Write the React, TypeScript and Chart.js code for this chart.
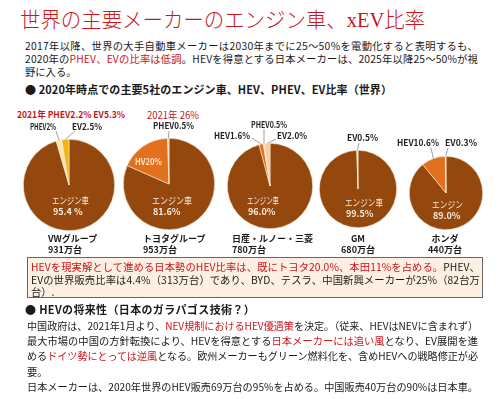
import React, { useEffect, useLayoutEffect, useRef } from "react";
import { Chart, registerables } from "chart.js";
Chart.register(...registerables);

// ---- data ----
const companies = ["VWグループ", "トヨタグループ", "日産・ルノー・三菱", "GM", "ホンダ"];
const salesLabels = ["931万台", "953万台", "780万台", "680万台", "440万台"];
const sliceNames = ["エンジン車", "HEV", "PHEV", "EV"];
const engineShare = [95.4, 81.6, 96.0, 99.5, 89.0];
const hevShare = [0, 17.9, 1.6, 0, 10.6];
const phevShare = [2.0, 0.5, 0.5, 0, 0];
const evShare = [2.5, 0, 2.0, 0.5, 0.3];
const engineNames = ["エンジン車", "エンジン車", "エンジン車", "エンジン車", "エンジン"];
const enginePctLabels = ["95.4 %", "81.6%", "96.0%", "99.5%", "89.0%"];

// ---- layout / style ----
const W = 500, H = 399;
const FONT = '"Noto Sans CJK JP", "Noto Sans", sans-serif';
const RED = "#c8161d";
const BROWN = "#94480d";
const ORANGE = "#e2701c";
const pieGeom = [
  { cx: 69, cy: 185, r: 46 },
  { cx: 169, cy: 184, r: 46 },
  { cx: 270, cy: 186, r: 43 },
  { cx: 358, cy: 189, r: 39 },
  { cx: 446, cy: 193, r: 37 },
];
const pieColors = [
  [BROWN, ORANGE, "#fde6ad", "#f3b515"],
  [BROWN, ORANGE, "#fbe3c4", "#fbe3c4"],
  [BROWN, ORANGE, "#fbe7d6", "#f8caa2"],
  [BROWN, ORANGE, "#fbe3c4", "#fbe3c4"],
  [BROWN, ORANGE, "#fbe3c4", "#fbe3c4"],
];
type Leader = { slice: number; text: string; x: number; y: number; w: number; ax: number; ay: number };
const leaders: Leader[][] = [
  [
    { slice: 2, text: "PHEV2%", x: 30, y: 126, w: 26, ax: 56, ay: 131 },
    { slice: 3, text: "EV2.5%", x: 72, y: 126, w: 30, ax: 75, ay: 131 },
  ],
  [{ slice: 2, text: "PHEV0.5%", x: 153, y: 125, w: 41, ax: 169, ay: 131 }],
  [
    { slice: 1, text: "HEV1.6%", x: 214, y: 135, w: 36, ax: 252, ay: 138 },
    { slice: 2, text: "PHEV0.5%", x: 251, y: 124, w: 36, ax: 264, ay: 129 },
    { slice: 3, text: "EV2.0%", x: 277, y: 135, w: 30, ax: 276, ay: 139 },
  ],
  [{ slice: 3, text: "EV0.5%", x: 347, y: 137, w: 31, ax: 359, ay: 143 }],
  [
    { slice: 1, text: "HEV10.6%", x: 397, y: 142, w: 42, ax: 431, ay: 148 },
    { slice: 3, text: "EV0.3%", x: 445, y: 142, w: 32, ax: 448, ay: 148 },
  ],
];
const innerPos = [
  { x: 52, y: 200, w: 37 },
  { x: 152, y: 200, w: 40 },
  { x: 247, y: 200, w: 32 },
  { x: 345, y: 202, w: 38 },
  { x: 432, y: 204, w: 31 },
];
const namePos = [
  { x: 48, center: false },
  { x: 143, center: false },
  { x: 232, center: false },
  { x: 358, center: true },
  { x: 445, center: true },
];

const leaderPlugin = {
  id: "leaders",
  afterDatasetsDraw(chart: any, _args: any, opts: any) {
    const list: Leader[] = opts.list || [];
    const ctx = chart.ctx;
    const meta = chart.getDatasetMeta(0);
    ctx.save();
    ctx.strokeStyle = "#8a8a8a";
    ctx.lineWidth = 0.8;
    for (const l of list) {
      const arc: any = meta.data[l.slice];
      if (!arc) continue;
      const p = arc.getProps(["x", "y", "startAngle", "endAngle", "outerRadius"], true);
      const a = (p.startAngle + p.endAngle) / 2;
      const ex = p.x + Math.cos(a) * p.outerRadius;
      const ey = p.y + Math.sin(a) * p.outerRadius;
      ctx.beginPath();
      ctx.moveTo(l.ax, l.ay);
      ctx.lineTo(ex, ey);
      ctx.stroke();
    }
    ctx.restore();
  },
};

function PieCanvas({ idx }: { idx: number }) {
  const ref = useRef<HTMLCanvasElement>(null);
  useEffect(() => {
    const g = pieGeom[idx];
    const chart = new Chart(ref.current as HTMLCanvasElement, {
      type: "pie",
      data: {
        labels: sliceNames,
        datasets: [
          {
            data: [engineShare[idx], hevShare[idx], phevShare[idx], evShare[idx]],
            backgroundColor: pieColors[idx],
            borderColor: "#f7ead8",
            borderWidth: 0.6,
          },
        ],
      },
      options: {
        responsive: false,
        animation: false,
        devicePixelRatio: 1,
        rotation: 0,
        layout: {
          padding: { left: g.cx - g.r, top: g.cy - g.r, right: W - g.cx - g.r, bottom: H - g.cy - g.r },
        },
        plugins: {
          legend: { display: false },
          tooltip: { enabled: false },
          // @ts-ignore
          leaders: { list: leaders[idx] },
        },
      },
      plugins: [leaderPlugin],
    } as any);
    return () => chart.destroy();
  }, [idx]);
  return (
    <canvas
      ref={ref}
      width={W}
      height={H}
      style={{ position: "absolute", left: 0, top: 0, width: W, height: H, pointerEvents: "none" }}
    />
  );
}

// text line; when w is given the line is stretched/squeezed to exactly w px
function T(props: {
  x: number; y: number; w?: number; size?: number; lh?: number; color?: string; bold?: boolean;
  center?: boolean; family?: string; weight?: number; children: React.ReactNode;
}) {
  const ref = useRef<HTMLDivElement>(null);
  const lh = props.lh ?? 13;
  useLayoutEffect(() => {
    const el = ref.current;
    if (!el || !props.w) return;
    el.style.letterSpacing = "0px";
    el.style.transform = "none";
    const nat = el.getBoundingClientRect().width;
    const n = (el.textContent || "").length;
    if (nat > props.w) {
      el.style.transform = `scaleX(${props.w / nat})`;
    } else if (n > 0) {
      el.style.letterSpacing = (props.w - nat) / n + "px";
    }
  });
  const style: React.CSSProperties = {
    position: "absolute",
    left: props.center ? props.x - 100 : props.x,
    top: props.y - lh / 2,
    fontSize: props.size ?? 10.5,
    lineHeight: lh + "px",
    color: props.color ?? "#1a1a1a",
    fontWeight: props.weight ?? (props.bold ? 700 : 400),
    fontFamily: props.family ?? FONT,
    whiteSpace: "nowrap",
    transformOrigin: "left center",
  };
  if (props.center) {
    style.width = 200;
    style.textAlign = "center";
  }
  return <div ref={ref} style={style}>{props.children}</div>;
}

const R = (s: string) => <span style={{ color: RED }}>{s}</span>;

export default function App() {
  return (
    <div style={{ position: "absolute", left: 0, top: 0, width: W, height: H, background: "#fff", overflow: "hidden" }}>
      {/* title */}
      <T x={20} y={20} w={405} size={21} lh={26} weight={300} color={RED} family={'"Liberation Serif", "Noto Sans CJK JP", serif'}>
        世界の主要メーカーのエンジン車、xEV比率
      </T>
      <T x={25} y={45} w={453} size={10.3}>2017年以降、世界の大手自動車メーカーは2030年までに25～50%を電動化すると表明するも、</T>
      <T x={25} y={58} w={453} size={10.3}>2020年の{R("PHEV、EVの比率は低調")}。HEVを得意とする日本メーカーは、2025年以降25～50%が視</T>
      <T x={25} y={71} size={10.3}>野に入る。</T>

      <T x={25} y={89} w={367} size={11} bold>● 2020年時点での主要5社のエンジン車、HEV、PHEV、EV比率（世界）</T>

      {/* red notes */}
      <T x={17} y={114} w={108} size={9.5} bold color={RED}>2021年 PHEV2.2% EV5.3%</T>
      <T x={147} y={114} w={52} size={10} color={RED}>2021年 26%</T>

      {pieGeom.map((_, i) => (
        <PieCanvas key={i} idx={i} />
      ))}

      {leaders.flat().map((l, k) => (
        <T key={"l" + k} x={l.x} y={l.y} w={l.w} size={9} bold color="#222">{l.text}</T>
      ))}

      <T x={135} y={161} w={27} size={9} bold color="#fbe6cf">HV20%</T>

      {innerPos.map((p, i) => (
        <React.Fragment key={"in" + i}>
          <T x={p.x} y={p.y} w={p.w} size={9.5} color="#f7ece0">{engineNames[i]}</T>
          <T x={p.x + 1} y={p.y + 11} size={9} bold color="#f7ece0">{enginePctLabels[i]}</T>
        </React.Fragment>
      ))}

      {companies.map((c, i) => (
        <React.Fragment key={"c" + i}>
          <T x={namePos[i].x} y={238} size={9} bold center={namePos[i].center}>{c}</T>
          <T x={namePos[i].x} y={249} size={9} bold center={namePos[i].center}>{salesLabels[i]}</T>
        </React.Fragment>
      ))}

      {/* box */}
      <div style={{ position: "absolute", left: 27, top: 257, width: 456, height: 41, boxSizing: "border-box", background: "#fdf0e2", border: "1px solid #666" }} />
      <T x={31} y={266} w={449} size={10.3}>{R("HEVを現実解として進める日本勢のHEV比率は、既にトヨタ20.0%、本田11%を占める。")}PHEV、</T>
      <T x={31} y={279} w={449} size={10.3}>EVの世界販売比率は4.4%（313万台）であり、BYD、テスラ、中国新興メーカーが25%（82台万</T>
      <T x={31} y={291} size={10.3}>台）.</T>

      <T x={25} y={309} w={230} size={11} bold>● HEVの将来性（日本のガラパゴス技術？）</T>
      <T x={27} y={325} w={451} size={10.3}>中国政府は、2021年1月より、{R("NEV規制におけるHEV優遇策")}を決定。（従来、HEVはNEVに含まれず）</T>
      <T x={27} y={340} w={451} size={10.3}>最大市場の中国の方針転換により、HEVを得意とする{R("日本メーカーには追い風")}となり、EV展開を進</T>
      <T x={27} y={355.5} w={451} size={10.3}>める{R("ドイツ勢にとっては逆風")}となる。欧州メーカーもグリーン燃料化を、含めHEVへの戦略修正が必</T>
      <T x={27} y={371} size={10.3}>要。</T>
      <T x={27} y={386} w={451} size={10.3}>日本メーカーは、2020年世界のHEV販売69万台の95%を占める。中国販売40万台の90%は日本車。</T>
    </div>
  );
}
